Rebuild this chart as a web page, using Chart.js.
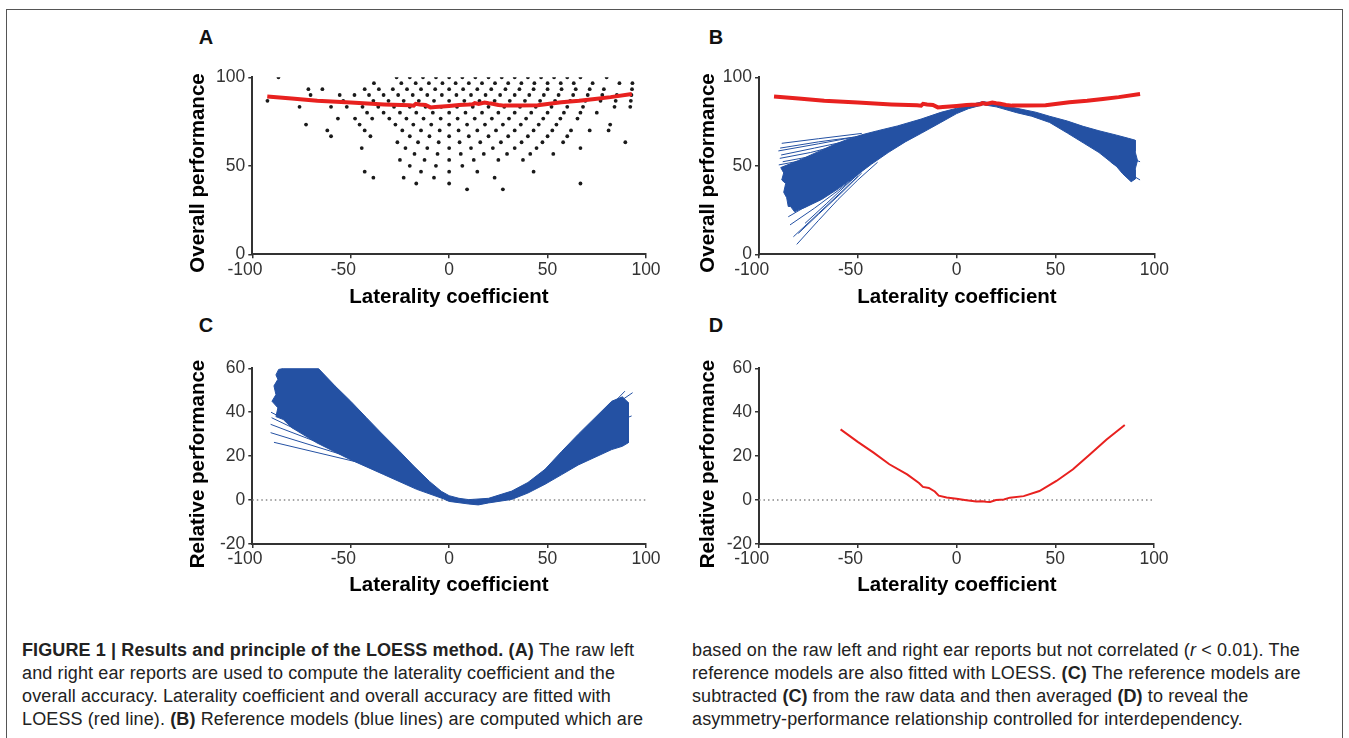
<!DOCTYPE html>
<html lang="en">
<head>
<meta charset="UTF-8">
<title>Figure 1 - LOESS method</title>
<script src="https://cdn.jsdelivr.net/npm/chart.js@4"></script>
<style>
  body { margin: 0; background: #fff; font-family: "Liberation Sans", Arial, sans-serif; }
  .page { position: relative; width: 1349px; height: 738px; overflow: hidden; }
  .frame { position: absolute; left: 6px; top: 9px; width: 1335px; height: 800px; border: 1.5px solid #555; }
  canvas { position: absolute; }
  .lab { position: absolute; font-weight: bold; font-size: 20px; color: #111; transform: translate(-50%, -50%); }
  .xt, .yt { position: absolute; font-weight: bold; font-size: 20.5px; color: #000; white-space: nowrap; }
  .xt { transform: translate(-50%, -50%); }
  .yt { transform: translate(-50%, -50%) rotate(-90deg); }
  .cap { position: absolute; top: 639px; font-size: 18px; letter-spacing: 0.12px; line-height: 23px; color: #222; white-space: nowrap; }
</style>
</head>
<body>
<div class="page">
  <div class="frame"></div>

  <div class="lab" style="left:206px;top:37px">A</div>
  <div class="lab" style="left:716px;top:37px">B</div>
  <div class="lab" style="left:206px;top:325px">C</div>
  <div class="lab" style="left:716px;top:325px">D</div>

  <canvas id="chartA" width="490" height="230" style="left:180px;top:60px"></canvas>
  <canvas id="chartB" width="490" height="230" style="left:690px;top:60px"></canvas>
  <canvas id="chartC" width="490" height="230" style="left:180px;top:345px"></canvas>
  <canvas id="chartD" width="490" height="230" style="left:690px;top:345px"></canvas>

  <div class="yt" style="left:196.5px;top:173px">Overall performance</div>
  <div class="yt" style="left:706.5px;top:173px">Overall performance</div>
  <div class="yt" style="left:196.5px;top:464px">Relative performance</div>
  <div class="yt" style="left:706.5px;top:464px">Relative performance</div>
  <div class="xt" style="left:449px;top:296px">Laterality coefficient</div>
  <div class="xt" style="left:957px;top:296px">Laterality coefficient</div>
  <div class="xt" style="left:449px;top:584px">Laterality coefficient</div>
  <div class="xt" style="left:957px;top:584px">Laterality coefficient</div>

  <div class="cap" style="left:22px">
    <b>FIGURE 1 | Results and principle of the LOESS method.</b> <b>(A)</b> The raw left<br>
    and right ear reports are used to compute the laterality coefficient and the<br>
    overall accuracy. Laterality coefficient and overall accuracy are fitted with<br>
    LOESS (red line). <b>(B)</b> Reference models (blue lines) are computed which are
  </div>
  <div class="cap" style="left:692px">
    based on the raw left and right ear reports but not correlated (<i>r</i> &lt; 0.01). The<br>
    reference models are also fitted with LOESS. <b>(C)</b> The reference models are<br>
    subtracted <b>(C)</b> from the raw data and then averaged <b>(D)</b> to reveal the<br>
    asymmetry-performance relationship controlled for interdependency.
  </div>
</div>

<script>
// axis ticks
const xTicks = [-100, -50, 0, 50, 100];
const yTicksAB = [0, 50, 100];
const yTicksCD = [-20, 0, 20, 40, 60];

// panel A raw data: overall performance levels and the laterality values seen on each level
const dotRows = [100, 96.7, 93.3, 90, 86.7, 83.3, 80, 76.7, 73.3, 70, 66.7, 63.3, 60, 56.7, 53.3, 50, 46.7, 43.3, 40, 36.7];
const dotLC = [
  [-86.7, -26.7, -20, -13.3, -6.7, 0, 6.7, 13.3, 20, 26.7, 33.3, 40, 46.7, 53.3, 60, 66.7, 80],
  [-38.2, -24.3, -17, -10.3, -3.4, 3.3, 10, 16.7, 23.3, 30, 36.7, 43.3, 50, 56.7, 63.3, 72.9, 86.5, 93.1],
  [-71.5, -64.4, -42.9, -35.7, -28.6, -21.4, -14.3, -7.1, 0, 7.1, 14.3, 21.4, 28.6, 35.7, 42.9, 50, 57.1, 64.3, 71.4, 78.6, 92.9],
  [-70.4, -55.6, -48.1, -40.7, -33.3, -25.9, -18.5, -11.1, -3.7, 3.7, 11.1, 18.5, 25.9, 33.3, 40.7, 48.1, 55.6, 63, 70.4, 77.8, 85.2, 92.6],
  [-92.3, -53.8, -38.5, -30.8, -23.1, -15.4, -7.7, 0, 7.7, 15.4, 23.1, 30.8, 38.5, 46.2, 53.8, 61.5, 69.2, 76.9, 84.6, 92.3],
  [-76, -60, -52, -44, -36, -28, -20, -12, -4, 4, 12, 20, 28, 36, 44, 52, 60, 68, 84, 92],
  [-41.7, -33.3, -25, -16.7, -8.3, 0, 8.3, 16.7, 25, 33.3, 41.7, 50, 58.3, 66.7, 75],
  [-56.5, -47.8, -39.1, -30.4, -21.7, -13, -4.3, 4.3, 13, 21.7, 30.4, 39.1, 47.8, 56.5, 65.2],
  [-72.7, -45.5, -27.3, -18.2, -9.1, 0, 9.1, 18.2, 27.3, 36.4, 45.5, 54.5, 81.8],
  [-61.9, -42.9, -23.8, -14.3, -4.8, 4.8, 14.3, 23.8, 33.3, 42.9, 52.4, 61.9, 71.4, 81],
  [-60, -40, -20, -10, 0, 10, 20, 30, 40, 50, 60],
  [-26.3, -15.8, -5.3, 5.3, 15.8, 26.3, 36.8, 47.4, 57.9, 89.5],
  [-44.4, -22.2, -11.1, 0, 11.1, 22.2, 33.3, 44.4, 66.7],
  [-17.6, -5.9, 5.9, 17.6, 29.4, 41.2, 52.9],
  [-25, -12.5, 0, 12.5, 25, 37.5],
  [-20, -6.7, 6.7],
  [-42.9, -14.3, 0, 14.3, 42.9],
  [-38.5, -23.1, -7.7, 23.1],
  [-16.7, 0, 66.7],
  [9.1, 27.3]
];

// LOESS fit of the raw data (red line, A and B)
const loessX = [-92.4, -80, -67, -50, -33, -20, -18, -17, -15, -12, -9.5, -7, 0, 5, 10, 12, 13, 15, 18, 20, 22, 25, 28, 35, 45, 57, 66, 74, 82, 92.8];
const loessY = [89.2, 88.0, 86.8, 85.7, 84.7, 84.2, 84.0, 85.0, 84.6, 84.4, 83.0, 83.2, 83.8, 84.3, 84.6, 84.8, 85.4, 85.0, 85.7, 85.3, 85.0, 84.4, 84.0, 84.0, 84.2, 85.9, 86.7, 87.7, 88.8, 90.6];

// B: outline of the dense bundle of reference models
const bundleBX = [-89, -80, -70, -62, -55, -48, -40, -30, -18, -8, 0, 6, 13.5, 20, 30, 40, 47, 56, 64, 72, 81, 87, 90.3,
  90.3, 91.5, 90.3, 90.3, 88.3,
  84, 81, 72, 64, 56, 47, 38, 30.4, 20, 13.5, 6, 0, -8, -17.7, -26, -34.6, -43, -51.4, -59.9, -68.3, -76.7, -80.1,
  -82, -84, -85.2, -86, -87.5, -86.5, -88.5, -87.5, -89];
const bundleBY = [49, 53, 58, 62, 65, 67.5, 69.8, 72.5, 76.4, 80.2, 82.5, 84.3, 86.3, 84.8, 82.6, 80.3, 78, 75.3, 72.3, 69.8, 67.3, 65.5, 64.5,
  58, 53, 48, 42.5, 41,
  45.5, 49.5, 57.5, 63, 68.5, 74.5, 78, 80, 83.3, 84.5, 82.3, 79.5, 74.5, 68.5, 63.5, 57.5, 51, 44, 37, 31, 26.5, 25,
  24, 27, 27, 32, 35, 40, 42, 46, 49];

// B: single reference models that stand out of the bundle
const fanBX = [
  [-88.5, -70, -48], [-90.2, -70, -50], [-89.3, -70, -52], [-88.8, -72, -55], [-89.5, -74, -58], [-88, -75, -62], [-90, -78, -66],
  [-80.9, -70, -60, -50, -40], [-82.6, -70, -60, -50], [-80.1, -70, -58, -48], [-84.3, -72, -60, -50], [-76.7, -66, -56, -46], [-85.2, -74, -62],
  [75, 92.8], [78, 92.8]
];
const fanBY = [
  [62.7, 65.3, 68.3], [58.4, 62.4, 66.6], [60, 63.5, 66.2], [56.1, 60, 64], [54.2, 57.5, 62], [52.3, 55, 59.8], [50.5, 53, 57],
  [5.6, 19, 31, 42, 52], [9.9, 23, 33.5, 44], [11.8, 22.5, 35, 46], [16.6, 26, 36, 45], [17.5, 28.5, 39, 49], [21.2, 28.5, 37.5],
  [60, 52.3], [52, 42]
];

// C: outline of the bundle of models after subtraction
const bundleCX = [-84.3, -66.5, -58, -50, -42, -35, -25, -18, -10, -4, 0, 5, 10, 20, 31.8, 40, 48.7, 57, 65.6, 74.1, 82.6, 88, 91,
  91, 88,
  82.6, 74.1, 65.6, 57, 48.7, 40, 31.8, 20, 14.8, 10, 0, -3, -16.5, -33.4, -50.4, -67.3, -80, -84.3,
  -88, -87, -90, -88, -89, -87, -88, -86.6, -84.3];
const bundleCY = [60, 60, 52, 45, 37.5, 31, 22, 15.5, 8.5, 4, 2, 0.8, 0.2, 0.8, 4.1, 8, 14, 22, 30, 37.5, 45, 47, 44.4,
  26.1, 24.5,
  23, 19.5, 16, 11.5, 7.2, 3.2, 0.3, -1.3, -2.2, -1.8, -0.6, 0.6, 4.9, 11.7, 18.5, 26.1, 33, 36.7,
  38, 42, 45, 48, 52, 55, 57, 59.5, 60];

// C: single models outside the bundle
const fanCX = [[-89, -45.3], [-90.7, -52], [-90.7, -60], [-90.2, -68], [-90.5, -74], [70, 80, 89.3], [72, 82, 93.2], [80, 92.7]];
const fanCY = [[26.3, 17], [30.7, 20], [34.5, 24], [37.5, 28], [40, 32.5], [33, 41, 49.6], [34, 42, 48.9], [34, 38.3]];

// D: averaged relative performance
const meanX = [-58.7, -50, -42, -34, -25, -19, -17, -14, -11, -9, -5, 0, 5, 10, 13, 15, 17, 20, 24, 27, 34, 42, 50.6, 59, 67.5, 76, 85.2];
const meanY = [32.2, 26.5, 21.6, 16.3, 11.7, 7.8, 6.0, 5.5, 3.9, 2.0, 1.2, 0.6, -0.1, -0.7, -0.5, -0.8, -0.9, 0.0, 0.3, 1.1, 1.8, 4.1, 8.7, 14.0, 20.8, 27.6, 34.2];

const RED = '#e8211f';
const BLUE = '#2451a3';
const INK = '#333';

Chart.defaults.font.family = '"Liberation Sans", Arial, sans-serif';

const pts = (xs, ys) => xs.map((x, i) => ({ x: x, y: ys[i] }));
const line = (xs, ys, color, width) => ({
  data: pts(xs, ys), borderColor: color, borderWidth: width, pointRadius: 0, fill: false, tension: 0
});
const shape = (xs, ys) => ({
  data: pts(xs, ys), borderColor: BLUE, backgroundColor: BLUE, borderWidth: 1, pointRadius: 0, fill: 'shape', tension: 0
});
const zeroLine = {
  data: [{ x: -100, y: 0 }, { x: 100, y: 0 }], borderColor: '#888', borderWidth: 1.5, borderDash: [1.5, 3],
  pointRadius: 0, fill: false
};

function makePanel(id, area, yMin, yMax, yTicks, datasets) {
  const cv = document.getElementById(id);
  const W = cv.width, H = cv.height;
  const axis = (ticks, extra) => Object.assign({
    type: 'linear',
    afterBuildTicks: s => { s.ticks = ticks.map(v => ({ value: v })); },
    grid: { drawOnChartArea: false, drawTicks: true, tickLength: 4, color: INK, lineWidth: 1.5 },
    border: { display: true, color: INK, width: 2 }
  }, extra);
  return new Chart(cv, {
    type: 'line',
    data: { datasets: datasets },
    options: {
      responsive: false,
      animation: false,
      events: [],
      layout: { padding: { left: 0, top: area.top, right: W - area.right, bottom: 0 } },
      plugins: { legend: { display: false }, tooltip: { enabled: false } },
      scales: {
        x: axis(xTicks, {
          min: -100, max: 100,
          afterFit: s => { s.height = H - area.bottom; },
          ticks: { color: INK, font: { size: 17.5 }, padding: 1, maxRotation: 0, autoSkip: false,
                   callback: v => v < 0 ? v + '   ' : '' + v }
        }),
        y: axis(yTicks, {
          min: yMin, max: yMax,
          afterFit: s => { s.width = area.left; },
          ticks: { color: INK, font: { size: 17.5 }, padding: 3, autoSkip: false }
        })
      }
    }
  });
}

// A: raw data with LOESS fit
const dots = [];
dotRows.forEach((y, r) => dotLC[r].forEach(x => dots.push({ x: x, y: y })));
makePanel('chartA', { left: 72.3, top: 17.3, right: 466, bottom: 194.3 }, 0, 100, yTicksAB, [
  line(loessX, loessY, RED, 4),
  { data: dots, showLine: false, pointRadius: 1.9, pointBorderWidth: 0, pointBackgroundColor: '#1a1a1a', pointBorderColor: '#1a1a1a' }
]);

// B: LOESS fit and reference models
const dsB = [line(loessX, loessY, RED, 4)];
fanBX.forEach((xs, i) => dsB.push(line(xs, fanBY[i], BLUE, 1)));
dsB.push(shape(bundleBX, bundleBY));
makePanel('chartB', { left: 69, top: 17.3, right: 464.3, bottom: 194.3 }, 0, 100, yTicksAB, dsB);

// C: relative performance of every reference model
const dsC = [];
fanCX.forEach((xs, i) => dsC.push(line(xs, fanCY[i], BLUE, 1)));
dsC.push(shape(bundleCX, bundleCY));
dsC.push(zeroLine);
makePanel('chartC', { left: 72.3, top: 23.3, right: 466, bottom: 199 }, -20, 60, yTicksCD, dsC);

// D: average
makePanel('chartD', { left: 69, top: 23.3, right: 464, bottom: 199 }, -20, 60, yTicksCD, [
  line(meanX, meanY, RED, 2),
  zeroLine
]);
</script>
</body>
</html>
